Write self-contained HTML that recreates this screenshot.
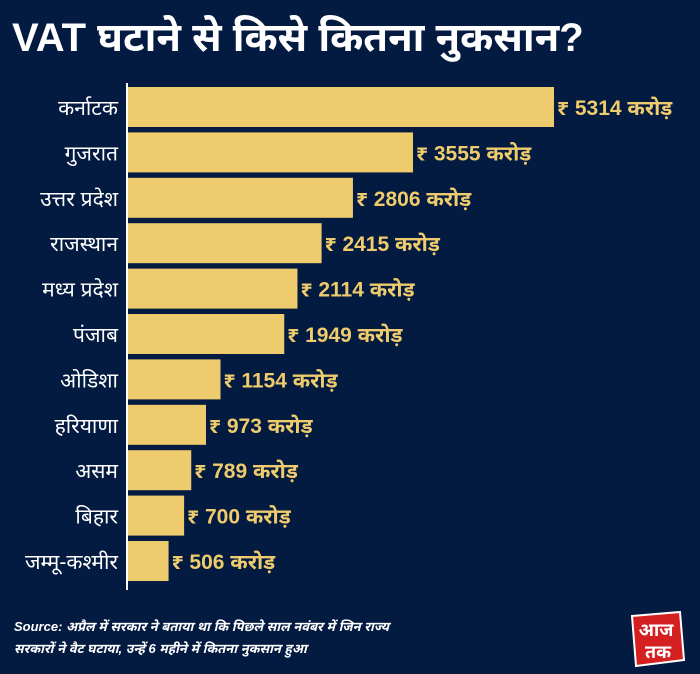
<!DOCTYPE html>
<html><head><meta charset="utf-8"><style>
body{margin:0;background:#031a41;}
#c{position:relative;width:700px;height:674px;background:#031a41;overflow:hidden;font-family:"Liberation Sans","Noto Sans Devanagari","Lohit Devanagari",sans-serif;}
.t{position:absolute;left:12px;top:16px;color:#fff;font-size:40px;font-weight:bold;white-space:nowrap;}
.src{position:absolute;left:14px;top:616px;color:#fff;font-size:13px;font-style:italic;font-weight:bold;line-height:22px;}
</style></head><body>
<div id="c">
<div class="t">VAT घटाने से किसे कितना नुकसान?</div>
<svg id="s" width="700" height="674" style="position:absolute;left:0;top:0"></svg>
<div class="src">Source: अप्रैल में सरकार ने बताया था कि पिछले साल नवंबर में जिन राज्य<br>सरकारों ने वैट घटाया, उन्हें 6 महीने में कितना नुकसान हुआ</div>
<svg width="60" height="58" style="position:absolute;left:626px;top:610px">
<path d="M6 6 L54 2 L58 50 L10 56 Z" fill="#d42020" stroke="#fff" stroke-width="2"/>
<text x="30" y="26" fill="#fff" font-size="18" font-weight="bold" text-anchor="middle">आज</text>
<text x="32" y="48" fill="#fff" font-size="18" font-weight="bold" text-anchor="middle">तक</text>
</svg>
</div>
<script>
const categories=["कर्नाटक","गुजरात","उत्तर प्रदेश","राजस्थान","मध्य प्रदेश","पंजाब","ओडिशा","हरियाणा","असम","बिहार","जम्मू-कश्मीर"];
const values=[5314,3555,2806,2415,2114,1949,1154,973,789,700,506];
const NS="http://www.w3.org/2000/svg";
const s=document.getElementById('s');
const x0=128,scale=(554-128)/5314;
const xs=v=>x0+v*scale;
const y0=87,step=45.4,bh=40;
const ys=i=>y0+i*step;
function mk(t,a){const e=document.createElementNS(NS,t);for(const k in a)e.setAttribute(k,a[k]);s.appendChild(e);return e;}
categories.forEach((c,i)=>{
 const r=mk('rect',{x:x0,y:ys(i),width:xs(values[i])-x0,height:bh,fill:'#eecb6c'});
 
 
 const l=mk('text',{x:118,y:ys(i)+bh/2+8,fill:'#fff','font-size':21,'text-anchor':'end'});
 l.textContent=c;
 
 
 const v=mk('text',{x:xs(values[i])+3,y:ys(i)+bh/2+8,fill:'#eecb6c','font-size':21,'font-weight':'bold'});
 v.textContent='₹ '+values[i]+' करोड़';
 
 
});
const ax=mk('line',{x1:127,y1:83,x2:127,y2:590,stroke:'#fff','stroke-width':2});


</script>
</body></html>
